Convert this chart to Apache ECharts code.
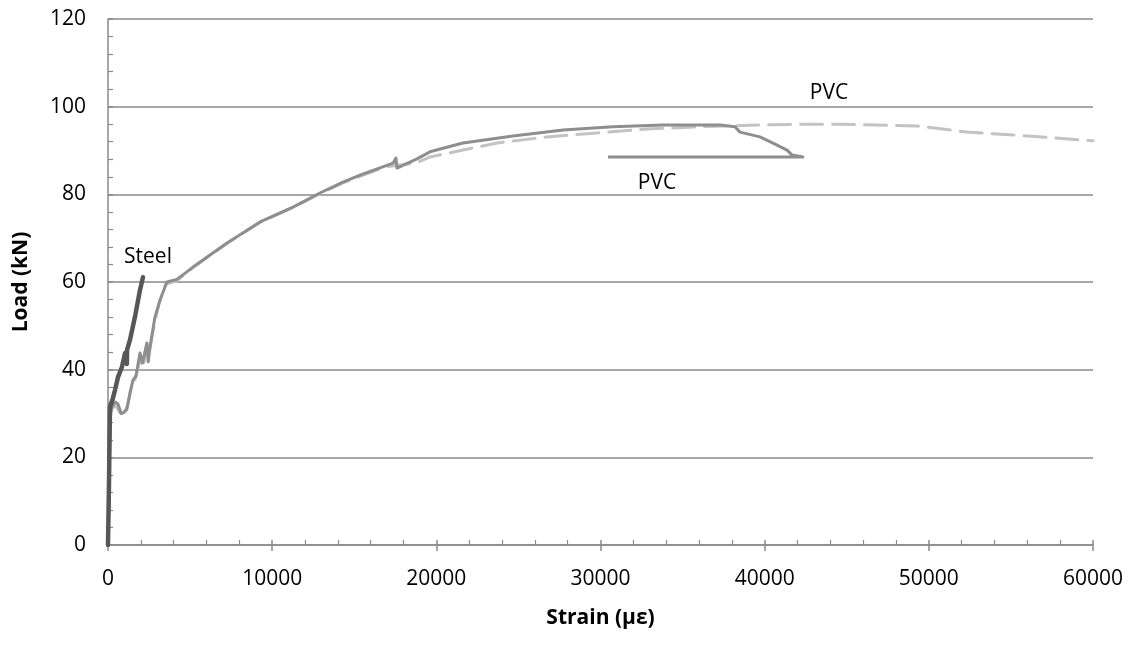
<!DOCTYPE html>
<html>
<head>
    <meta charset="utf-8">
    <title>Load - Strain</title>
    <script src="https://cdn.jsdelivr.net/npm/echarts@6/dist/echarts.min.js"></script>
</head>
<body style="margin:0">
    <div id="main" style="width: 1135px;height:645px;"></div>
    <script type="text/javascript">
    // steel bar gauge
    var steelStrain = [0, 60, 120, 300, 430, 610, 850, 1040, 1150, 1160, 1340, 1640, 1950, 2130];
    var steelLoad = [0, 14, 31.5, 33.5, 35.4, 38.3, 40.6, 43.8, 41.3, 44.5, 46.8, 52, 58.2, 61.1];

    // PVC, solid line (with unloading hook)
    var pvcStrain = [0, 50, 100, 150, 250, 430, 600, 800, 950, 1150, 1340, 1520, 1700, 1950, 2100, 2370, 2450, 2550, 2860, 3170, 3590,
        4200, 5180, 7250, 9260, 11270, 12910, 14310, 15350, 17360, 17540, 17600, 18820, 19610, 21620, 24670, 27720, 30760,
        33810, 37280, 38190, 38500, 39710, 40510, 41360, 41660, 42330, 30460];
    var pvcLoad = [0, 10, 25, 30, 31.5, 32.6, 32.2, 30, 30.2, 31, 34.7, 37.6, 38.5, 43.8, 41.5, 46.1, 41.8, 45, 52, 55.9, 60,
        60.6, 63.4, 68.9, 73.7, 77.1, 80.3, 82.8, 84.4, 87.1, 88.3, 86, 88.1, 89.7, 91.7, 93.3, 94.7, 95.4,
        95.8, 95.8, 95.4, 94.2, 93.1, 91.7, 90.1, 89, 88.5, 88.5];

    // PVC, dashed line
    var pvcDashStrain = [0, 60, 120, 200, 430, 600, 850, 1000, 1200, 1400, 1600, 1800, 2000, 2150, 2400, 2500, 2700, 3100, 3500, 4200,
        5180, 7250, 9260, 11270, 12910, 14310, 15350, 16900, 18700, 19610, 21620, 23700, 26740, 29790, 32830, 35880, 39530,
        42150, 44590, 49280, 52320, 55370, 60000];
    var pvcDashLoad = [0, 12, 28, 31, 31.8, 31, 29.5, 30, 32, 35.5, 37, 40, 42.5, 41, 45, 43, 48, 55, 59.5, 60.3,
        63.3, 68.8, 73.6, 77, 80.1, 82.6, 84.1, 86.3, 87.1, 88.5, 90.1, 91.7, 93.1, 94, 94.9, 95.4, 95.8,
        96, 96, 95.6, 94.2, 93.5, 92.2];

    function pairs(xs, ys) {
        return xs.map(function (x, i) { return [x, ys[i]]; });
    }

    var font = '"Open Sans", "Noto Sans", sans-serif';
    var axisGray = '#8a8a8a';

    var myChart = echarts.init(document.getElementById('main'));

    var option = {
        animation: false,
        grid: { left: 108, right: 42, top: 19, bottom: 100 },
        xAxis: [{
            type: 'value',
            min: 0,
            max: 60000,
            interval: 10000,
            name: 'Strain (με)',
            nameLocation: 'middle',
            nameGap: 63,
            nameTextStyle: { fontFamily: font, fontSize: 21, fontWeight: 'bold', color: '#000' },
            axisLine: { lineStyle: { color: axisGray, width: 1.5 } },
            axisTick: { show: true, inside: true, length: 5, lineStyle: { color: axisGray, width: 1.5 } },
            minorTick: { show: true, splitNumber: 5, length: 5, lineStyle: { color: axisGray, width: 1.2 } },
            axisLabel: {
                fontFamily: font, fontSize: 21, color: '#000', margin: 24,
                formatter: function (v) { return String(v); }
            },
            splitLine: { show: false }
        }, {
            // outside part of the major ticks
            type: 'value',
            position: 'bottom',
            min: 0,
            max: 60000,
            interval: 10000,
            axisLine: { show: false },
            axisTick: { show: true, inside: false, length: 6, lineStyle: { color: axisGray, width: 1.5 } },
            axisLabel: { show: false },
            splitLine: { show: false }
        }],
        yAxis: {
            type: 'value',
            min: 0,
            max: 120,
            interval: 20,
            name: 'Load (kN)',
            nameLocation: 'middle',
            nameGap: 76,
            nameTextStyle: { fontFamily: font, fontSize: 21, fontWeight: 'bold', color: '#000' },
            axisLine: { show: true, lineStyle: { color: axisGray, width: 1.5 } },
            axisTick: { show: true, inside: true, length: 5, lineStyle: { color: axisGray, width: 1.5 } },
            minorTick: { show: true, splitNumber: 5, length: 5, lineStyle: { color: axisGray, width: 1.2 } },
            axisLabel: { fontFamily: font, fontSize: 21, color: '#000', margin: 22 },
            splitLine: { show: true, lineStyle: { color: axisGray, width: 1.5 } }
        },
        series: [{
            name: 'PVC dashed',
            type: 'line',
            showSymbol: false,
            symbol: 'none',
            data: pairs(pvcDashStrain, pvcDashLoad),
            lineStyle: { color: '#c3c3c3', width: 3, type: [22, 10], cap: 'round' }
        }, {
            name: 'PVC',
            type: 'line',
            showSymbol: false,
            symbol: 'none',
            data: pairs(pvcStrain, pvcLoad),
            lineStyle: { color: '#8e8e8e', width: 3, join: 'round' }
        }, {
            name: 'Steel',
            type: 'line',
            showSymbol: false,
            symbol: 'none',
            data: pairs(steelStrain, steelLoad),
            lineStyle: { color: '#575757', width: 4.5, cap: 'round', join: 'round' }
        }],
        graphic: [
            { type: 'text', x: 148, y: 257, style: { text: 'Steel', font: '21px ' + font, fill: '#000', align: 'center', verticalAlign: 'middle' } },
            { type: 'text', x: 829, y: 93, style: { text: 'PVC', font: '21px ' + font, fill: '#000', align: 'center', verticalAlign: 'middle' } },
            { type: 'text', x: 657, y: 183, style: { text: 'PVC', font: '21px ' + font, fill: '#000', align: 'center', verticalAlign: 'middle' } }
        ]
    };

    myChart.setOption(option);
    </script>
</body>
</html>
